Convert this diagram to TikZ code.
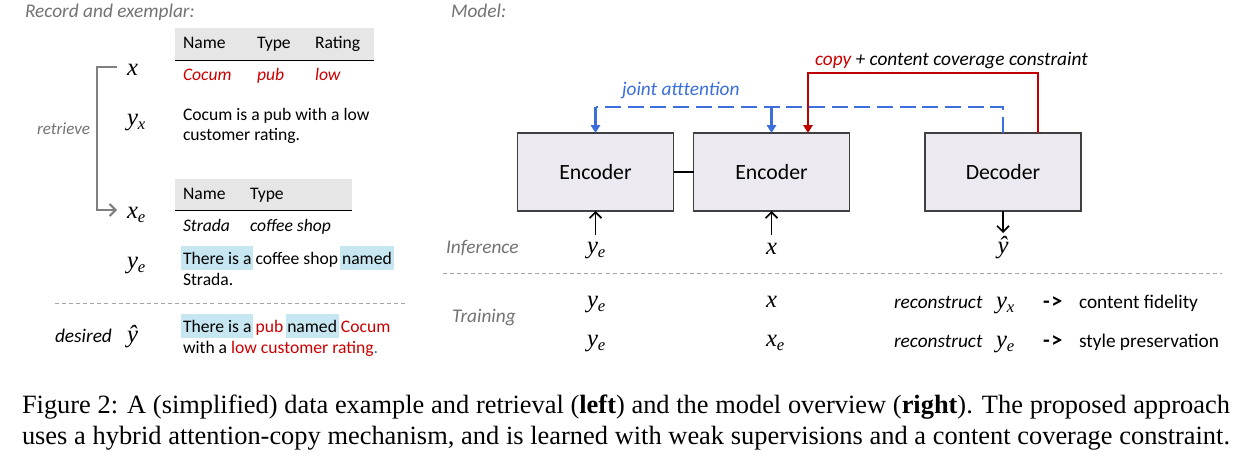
\RequirePackage{fix-cm}
\documentclass[tikz,border=0pt]{standalone}
\usepackage{fontspec}
\setmainfont{Carlito}
\newfontfamily\capfont{Liberation Serif}
\usetikzlibrary{arrows.meta,calc}
\definecolor{labgray}{RGB}{115,115,115}
\definecolor{tred}{RGB}{204,0,0}
\definecolor{lred}{RGB}{192,0,0}
\definecolor{jblue}{RGB}{60,110,220}
\definecolor{hlblue}{RGB}{198,231,242}
\definecolor{hdrgray}{RGB}{231,230,230}
\definecolor{boxfill}{RGB}{236,234,240}
\definecolor{boxline}{RGB}{64,64,64}
\definecolor{brgray}{RGB}{127,127,127}
\definecolor{sepgray}{RGB}{165,165,165}
\newcommand{\hlx}[1]{\kern-1.3pt\relax{\setlength{\fboxsep}{0pt}\colorbox{hlblue}{\kern1.3pt\relax\rule[-4.5pt]{0pt}{18pt}#1\kern1.3pt\relax}}\kern-1.3pt\relax}
\newcommand{\sbs}[1]{\raisebox{-3.6pt}{\fontsize{12.5}{14}\selectfont #1}}
\begin{document}
\begin{tikzpicture}[x=0.75pt,y=-0.75pt,
  every node/.style={inner sep=0pt,outer sep=0pt},
  lbl/.style={anchor=base west,font=\fontsize{14.5}{17}\selectfont\itshape,text=labgray},
  btxt/.style={anchor=base west,font=\fontsize{13.2}{16}\selectfont},
  mth/.style={anchor=base west,font=\capfont\fontsize{18.5}{22}\selectfont\itshape},
  rtxt/.style={anchor=base west,font=\fontsize{14.5}{17}\selectfont},
  encbox/.style={draw=boxline,line width=1pt,fill=boxfill,minimum width=117pt,minimum height=58.5pt,font=\fontsize{16.3}{19}\selectfont},
  inarr/.style={line width=1.3pt,-{Straight Barb[length=4.5pt,width=9pt]}},
  bluedash/.style={jblue,line width=2pt,dash pattern=on 12pt off 5pt},
  bluesolid/.style={jblue,line width=2pt},
  triarr/.style={-{Triangle[length=6pt,width=7pt]}},
  redl/.style={lred,line width=1.75pt},
  sepd/.style={sepgray,line width=1.1pt,dash pattern=on 3pt off 2.3pt},
  brline/.style={brgray,line width=1.5pt}]
\fill[white] (0,0) rectangle (1239,460);
\useasboundingbox (0,0) rectangle (1239,460);

% ---------------- left panel ----------------
\node[lbl] (tleft) at (25,18) {Record and exemplar:};

% table 1
\fill[hdrgray] (175,28) rectangle (374,60.5);
\draw[black,line width=1pt] (175,60.5) -- (374,60.5);
\node[btxt] (h1a) at (183,49) {Name};
\node[btxt] (h1b) at (257,49) {Type};
\node[btxt] (h1c) at (315,49) {Rating};
\node[btxt,text=tred,font=\fontsize{13.2}{16}\selectfont\itshape] (r1a) at (183,81) {Cocum};
\node[btxt,text=tred,font=\fontsize{13.2}{16}\selectfont\itshape] (r1b) at (257,81) {pub};
\node[btxt,text=tred,font=\fontsize{13.2}{16}\selectfont\itshape] (r1c) at (315,81) {low};

\node[btxt] (yx1) at (183,120) {Cocum is a pub with a low};
\node[btxt] (yx2) at (183,140) {customer rating.};

% table 2
\fill[hdrgray] (175,179) rectangle (352,210.5);
\draw[black,line width=1pt] (175,210.5) -- (352,210.5);
\node[btxt] (h2a) at (183,199) {Name};
\node[btxt] (h2b) at (250,199) {Type};
\node[btxt,font=\fontsize{13.2}{16}\selectfont\itshape] (r2a) at (183,231) {Strada};
\node[btxt,font=\fontsize{13.2}{16}\selectfont\itshape] (r2b) at (250,231) {coffee shop};

\node[btxt] (ye1) at (183,264) {\hlx{There is a} coffee shop \hlx{named}};
\node[btxt] (ye2) at (183,285) {Strada.};

\node[btxt] (yh1) at (183,332) {\hlx{There is a} \textcolor{tred}{pub} \hlx{named} \textcolor{tred}{Cocum}};
\node[btxt] (yh2) at (183,353) {with a \textcolor{tred}{low customer rating}\textcolor{jblue}{.}};

% math labels left
\node[mth] (lx) at (127,75) {x};
\node[mth] (lyx) at (127,125) {y\sbs{x}};
\node[mth] (lxe) at (127,218) {x\sbs{e}};
\node[mth] (lye) at (127,268) {y\sbs{e}};
\node[mth] (lyh) at (127,342) {ŷ};

\node[lbl,font=\fontsize{12.75}{15}\selectfont\itshape] (lret) at (37,134) {retrieve};
\node[lbl,text=black] (ldes) at (55,342) {desired};

% bracket
\coordinate (brtop) at (117,67);
\coordinate (brc) at (97,67);
\coordinate (brbot) at (117,210);
\draw[brline,-{Straight Barb[length=4.5pt,width=9pt]}] (brtop) -- (brc) |- (brbot);

% separator left
\coordinate (sl1) at (55,303.5);
\coordinate (sl2) at (405,303.5);
\draw[sepd] (sl1) -- (sl2);

% ---------------- right panel ----------------
\node[lbl] (tright) at (451,18) {Model:};

\node[encbox] (enc1) at (595.5,172) {Encoder};
\node[encbox] (enc2) at (771.5,172) {Encoder};
\node[encbox] (dec) at (1003,172) {Decoder};
\draw[black,line width=1.1pt] (enc1) -- (enc2);

% inference row
\node[lbl] (linf) at (446,253) {Inference};
\node[mth] (iye) at (587,253) {y\sbs{e}};
\node[mth] (ix) at (766,254) {x};
\node[mth,anchor=base] (iyh) at (1003,253) {ŷ};
\draw[inarr] ($(enc1.south)+(0,24)$) -- (enc1.south);
\draw[inarr] ($(enc2.south)+(0,24)$) -- (enc2.south);
\draw[inarr] (dec.south) -- ($(dec.south)+(0,22)$);

% joint attention
\coordinate (jtop) at ($(dec.north)+(0,-26)$);
\draw[bluedash] (dec.north) -- (jtop) -- (enc1.north |- jtop);
\draw[bluesolid,triarr] (enc1.north |- jtop) -- (enc1.north);
\draw[bluesolid,triarr] (enc2.north |- jtop) -- (enc2.north);
\node[lbl,text=jblue] (ljoint) at (622,96) {joint atttention};

% copy
\coordinate (cstart) at ($(dec.north)+(35,0)$);
\coordinate (cend) at ($(enc2.north)+(36.5,0)$);
\draw[redl,triarr] (cstart) -- ++(0,-60) -| (cend);
\node[lbl,text=black] (lcopy) at (815,66) {\textcolor{tred}{copy} + content coverage constraint};

% separator right
\coordinate (sr1) at (443,273.5);
\coordinate (sr2) at (1222,273.5);
\draw[sepd] (sr1) -- (sr2);

% training
\node[lbl] (ltrain) at (452,322) {Training};
\node[mth] (tye1) at (587,307) {y\sbs{e}};
\node[mth] (tx1) at (766,307) {x};
\node[rtxt,font=\fontsize{14.5}{17}\selectfont\itshape] (trc1) at (894,308) {reconstruct};
\node[mth] (tyx1) at (996,308) {y\sbs{x}};
\node[rtxt,font=\fontsize{16.5}{19}\selectfont\bfseries] (tar1) at (1043,308) {-\kern1.2pt>};
\node[rtxt] (tcf) at (1079,308) {content fidelity};

\node[mth] (tye2) at (587,346) {y\sbs{e}};
\node[mth] (txe2) at (766,346) {x\sbs{e}};
\node[rtxt,font=\fontsize{14.5}{17}\selectfont\itshape] (trc2) at (894,347) {reconstruct};
\node[mth] (tye3) at (996,347) {y\sbs{e}};
\node[rtxt,font=\fontsize{16.5}{19}\selectfont\bfseries] (tar2) at (1043,347) {-\kern1.2pt>};
\node[rtxt] (tsp) at (1079,347) {style preservation};

% ---------------- caption ----------------
\node[anchor=base west,font=\capfont\fontsize{19.8}{23.8}\selectfont] (cap1) at (22,413) {\makebox[906pt][s]{Figure 2: A (simplified) data example and retrieval (\textbf{left}) and the model overview (\textbf{right}). The proposed approach}};
\node[anchor=base west,font=\capfont\fontsize{19.8}{23.8}\selectfont] (cap2) at (22,444) {\makebox[906pt][s]{uses a hybrid attention-copy mechanism, and is learned with weak supervisions and a content coverage constraint.}};
\end{tikzpicture}
\end{document}
